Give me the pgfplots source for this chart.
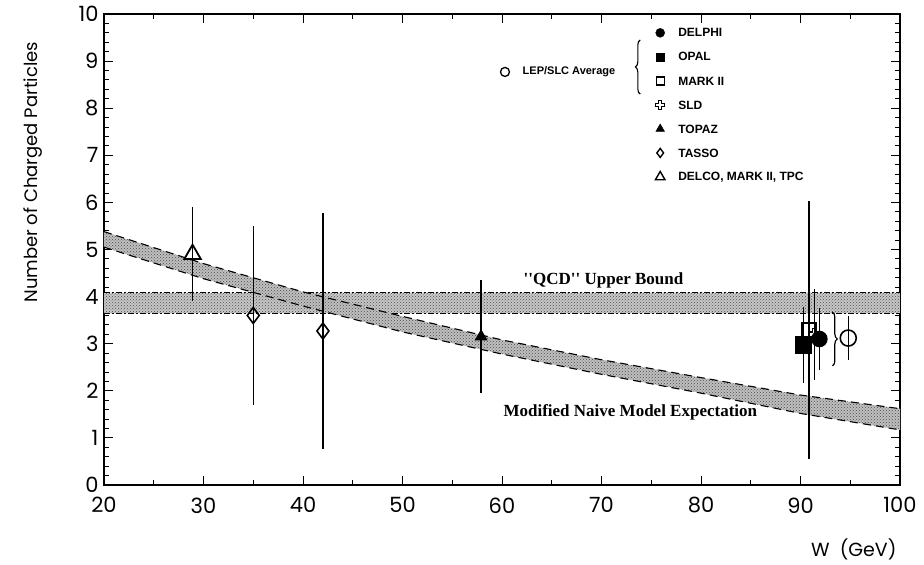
\documentclass[border=0pt]{standalone}
\usepackage{fontspec}
\setmainfont{Liberation Sans}
\newfontfamily\axfont{Poppins}
\newfontfamily\serifb{Liberation Serif}
\usepackage{pgfplots}
\pgfplotsset{compat=1.18}
\usetikzlibrary{patterns,decorations.pathreplacing}
\pgfdeclareplotmark{ocross}{%
  \pgfpathmoveto{\pgfqpoint{0.35\pgfplotmarksize}{\pgfplotmarksize}}%
  \pgfpathlineto{\pgfqpoint{0.35\pgfplotmarksize}{0.35\pgfplotmarksize}}%
  \pgfpathlineto{\pgfqpoint{\pgfplotmarksize}{0.35\pgfplotmarksize}}%
  \pgfpathlineto{\pgfqpoint{\pgfplotmarksize}{-0.35\pgfplotmarksize}}%
  \pgfpathlineto{\pgfqpoint{0.35\pgfplotmarksize}{-0.35\pgfplotmarksize}}%
  \pgfpathlineto{\pgfqpoint{0.35\pgfplotmarksize}{-\pgfplotmarksize}}%
  \pgfpathlineto{\pgfqpoint{-0.35\pgfplotmarksize}{-\pgfplotmarksize}}%
  \pgfpathlineto{\pgfqpoint{-0.35\pgfplotmarksize}{-0.35\pgfplotmarksize}}%
  \pgfpathlineto{\pgfqpoint{-\pgfplotmarksize}{-0.35\pgfplotmarksize}}%
  \pgfpathlineto{\pgfqpoint{-\pgfplotmarksize}{0.35\pgfplotmarksize}}%
  \pgfpathlineto{\pgfqpoint{-0.35\pgfplotmarksize}{0.35\pgfplotmarksize}}%
  \pgfpathlineto{\pgfqpoint{-0.35\pgfplotmarksize}{\pgfplotmarksize}}%
  \pgfpathclose\pgfusepathqstroke}
\begin{document}
\begin{tikzpicture}
\useasboundingbox (-104pt,-80pt) rectangle (820pt,485pt);
\begin{axis}[
  at={(0,0)}, anchor=south west,
  scale only axis, width=796pt, height=471pt,
  xmin=20, xmax=100, ymin=0, ymax=10,
  xtick={20,30,...,100}, ytick={0,1,...,10},
  minor x tick num=1, minor y tick num=4,
  tick align=inside, major tick length=9pt, minor tick length=5pt,
  tick style={black, line width=0.9pt},
  axis line style={line width=1.4pt},
  /pgf/number format/assume math mode=true,
  ticklabel style={font=\axfont\fontsize{21}{21}\selectfont},
  xticklabel style={yshift=-9pt},
  yticklabel style={xshift=-2pt},
  xlabel={W\ \ (GeV)},
  every axis x label/.style={at={(axis description cs:1,0)}, anchor=north east, yshift=-50pt, font=\axfont\fontsize{19}{19}\selectfont},
  ylabel={Number of Charged Particles},
  every axis y label/.style={at={(axis description cs:-0.089,0.664)}, rotate=90, anchor=center, font=\axfont\fontsize{18}{18}\selectfont},
  clip=false,
]
% QCD upper bound band
\addplot[draw=none, fill=black!22] coordinates {(20,3.65) (20,4.08) (100,4.08) (100,3.65)} -- cycle;
\addplot[draw=none, pattern=crosshatch dots, pattern color=black!70] coordinates {(20,3.65) (20,4.08) (100,4.08) (100,3.65)} -- cycle;
\addplot[black, line width=1pt, dash pattern=on 6pt off 2pt on 2pt off 2pt] coordinates {(20,4.08) (100,4.08)};
\addplot[black, line width=1pt, dash pattern=on 6pt off 2pt on 2pt off 2pt] coordinates {(20,3.65) (100,3.65)};
% modified naive model band
\addplot[draw=none, fill=black!25] coordinates {(20,5.38) (30,4.70) (40,4.10) (50,3.58) (60,3.08) (70,2.66) (80,2.28) (90,1.91) (100,1.62) (100,1.17) (90,1.52) (80,1.95) (70,2.35) (60,2.78) (50,3.25) (40,3.80) (30,4.38) (20,5.05)} -- cycle;
\addplot[draw=none, pattern=crosshatch dots, pattern color=black!70] coordinates {(20,5.38) (30,4.70) (40,4.10) (50,3.58) (60,3.08) (70,2.66) (80,2.28) (90,1.91) (100,1.62) (100,1.17) (90,1.52) (80,1.95) (70,2.35) (60,2.78) (50,3.25) (40,3.80) (30,4.38) (20,5.05)} -- cycle;
\addplot[black, line width=1.1pt, dash pattern=on 8pt off 5pt] coordinates {(20,5.38) (30,4.70) (40,4.10) (50,3.58) (60,3.08) (70,2.66) (80,2.28) (90,1.91) (100,1.62)};
\addplot[black, line width=1.1pt, dash pattern=on 8pt off 5pt] coordinates {(20,5.05) (30,4.38) (40,3.80) (50,3.25) (60,2.78) (70,2.35) (80,1.95) (90,1.52) (100,1.17)};
% DELCO, MARK II, TPC
\addplot[black, line width=1.5pt, only marks, mark=triangle, mark size=9.5pt, mark options={fill=white, line width=1.8pt},
  error bars/.cd, y dir=both, y explicit, error bar style={line width=1.5pt}, error mark=none]
  coordinates {(28.9,4.9) +- (0,1.0)};
% TASSO
\addplot[black, line width=1.5pt, only marks, mark=diamond, mark size=8pt, mark options={fill=white, line width=1.6pt},
  error bars/.cd, y dir=both, y explicit, error bar style={line width=1.5pt}, error mark=none]
  coordinates {(35.0,3.6) +- (0,1.9) (42.0,3.27) +- (0,2.5)};
% TOPAZ
\addplot[black, line width=1.5pt, only marks, mark=triangle*, mark size=6pt,
  error bars/.cd, y dir=both, y explicit, error bar style={line width=1.5pt}, error mark=none]
  coordinates {(57.9,3.15) +- (0,1.2)};
% MARK II (Z)
\addplot[black, line width=1.5pt, only marks, mark=square, mark size=7pt, mark options={fill=white, line width=1.6pt},
  error bars/.cd, y dir=both, y explicit, error bar style={line width=1.5pt}, error mark=none]
  coordinates {(90.85,3.29) +- (0,2.74)};
% SLD
\addplot[black, line width=1.5pt, only marks, mark=ocross, mark size=6pt, mark options={fill=white, line width=1.4pt},
  error bars/.cd, y dir=both, y explicit, error bar style={line width=1.5pt}, error mark=none]
  coordinates {(91.4,3.2) +- (0,0.97)};
% OPAL
\addplot[black, line width=1.5pt, only marks, mark=square*, mark size=8pt,
  error bars/.cd, y dir=both, y explicit, error bar style={line width=1.5pt}, error mark=none]
  coordinates {(90.3,2.97) +- (0,0.8)};
% DELPHI
\addplot[black, line width=1.5pt, only marks, mark=*, mark size=7.5pt,
  error bars/.cd, y dir=both, y explicit, error bar style={line width=1.5pt}, error mark=none]
  coordinates {(91.9,3.1) +- (0,0.65)};
% LEP/SLC average
\addplot[black, line width=1.5pt, only marks, mark=o, mark size=8pt, mark options={fill=white, line width=1.6pt},
  error bars/.cd, y dir=both, y explicit, error bar style={line width=1.5pt}, error mark=none]
  coordinates {(94.8,3.12) +- (0,0.47)};
\draw[black, line width=1.2pt, decorate, decoration={brace, amplitude=5pt}] (axis cs:93.2,3.67) -- (axis cs:93.2,2.53);
% annotations
\node[font=\serifb\bfseries\fontsize{17}{17}\selectfont] at (axis cs:70.2,4.35) {''QCD'' Upper Bound};
\node[font=\serifb\bfseries\fontsize{17}{17}\selectfont] at (axis cs:72.9,1.55) {Modified Naive Model Expectation};
% legend
\addplot[black, only marks, mark=*, mark size=4.5pt] coordinates {(75.9,9.6)};
\addplot[black, only marks, mark=square*, mark size=4pt] coordinates {(75.9,9.09)};
\addplot[black, only marks, mark=square, mark size=4pt, mark options={line width=1.4pt}] coordinates {(75.9,8.58)};
\addplot[black, only marks, mark=ocross, mark size=4.5pt, mark options={line width=1.4pt}] coordinates {(75.9,8.07)};
\addplot[black, only marks, mark=triangle*, mark size=5pt] coordinates {(75.9,7.56)};
\addplot[black, only marks, mark=diamond, mark size=4.5pt, mark options={line width=1.4pt}] coordinates {(75.9,7.05)};
\addplot[black, only marks, mark=triangle, mark size=5.5pt, mark options={line width=1.4pt}] coordinates {(75.9,6.54)};
\addplot[black, only marks, mark=o, mark size=4.5pt, mark options={line width=1.3pt}] coordinates {(60.3,8.77)};
\begin{scope}[every node/.style={anchor=west, font=\bfseries\fontsize{12}{12}\selectfont, inner sep=0pt}]
\node at (axis cs:77.7,9.6) {DELPHI};
\node at (axis cs:77.7,9.09) {OPAL};
\node at (axis cs:77.7,8.58) {MARK II};
\node at (axis cs:77.7,8.07) {SLD};
\node at (axis cs:77.7,7.56) {TOPAZ};
\node at (axis cs:77.7,7.05) {TASSO};
\node at (axis cs:77.7,6.54) {DELCO, MARK II, TPC};
\end{scope}
\node[anchor=east, inner sep=0pt, font=\bfseries\fontsize{11}{11}\selectfont] at (axis cs:71.4,8.77) {LEP/SLC Average};
\draw[black, line width=1.1pt, decorate, decoration={brace, amplitude=5pt}] (axis cs:73.9,8.3) -- (axis cs:73.9,9.45);
\end{axis}
\end{tikzpicture}
\end{document}
